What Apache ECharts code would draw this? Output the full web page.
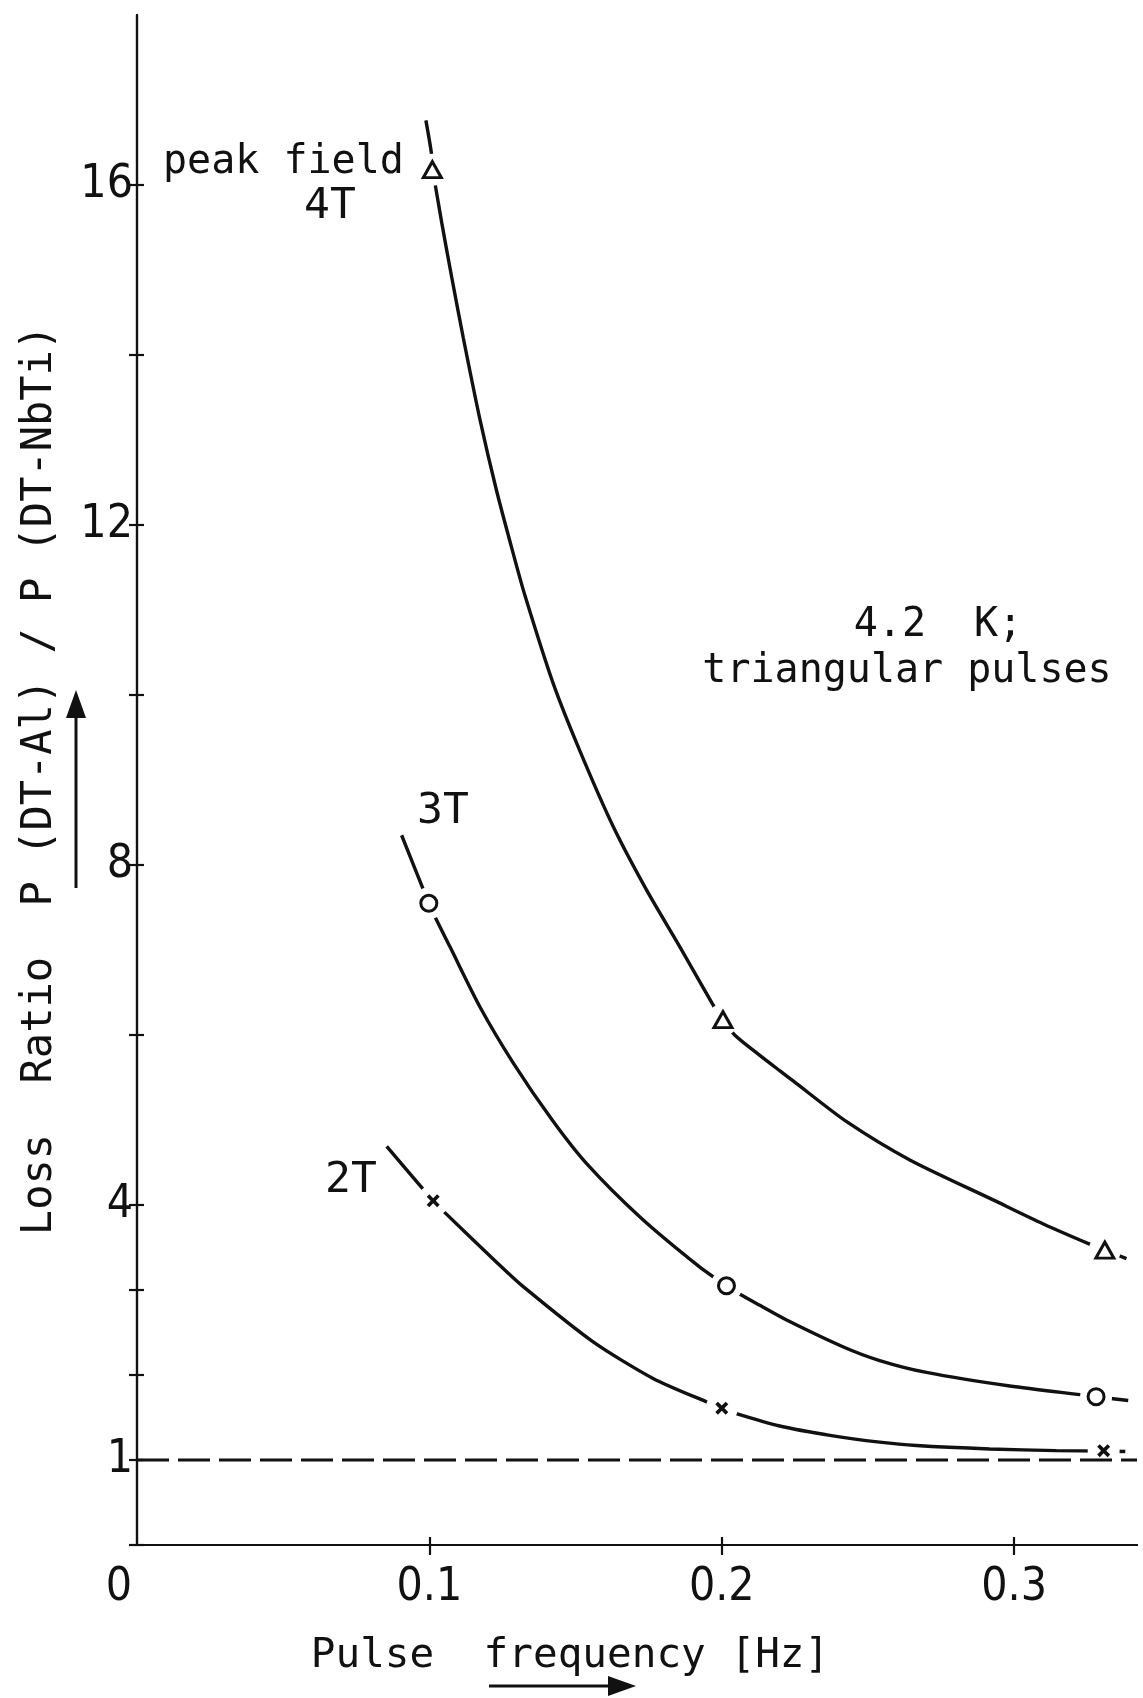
<!DOCTYPE html>
<html>
<head>
<meta charset="utf-8">
<script src="https://cdn.jsdelivr.net/npm/echarts@6/dist/echarts.min.js"></script>
<style>
html,body{margin:0;padding:0;background:#fff;}
#chart{width:1143px;height:1698px;}
</style>
</head>
<body>
<div id="chart"></div>
<script>
// ---- axis ticks / labels ----
const xTickValues = [0.1, 0.2, 0.3];
const xLabelValues = [0, 0.1, 0.2, 0.3];
const yTickValues = [0, 1, 2, 3, 4, 6, 8, 10, 12, 14, 16];
const yLabelValues = [1, 4, 8, 12, 16];
const xMin = 0, xMax = 0.342, yMin = 0, yMax = 18;

// ---- curves ----
const freq4T  = [0.0988, 0.1007, 0.1010, 0.1019, 0.1042, 0.1076, 0.1116, 0.1173, 0.1230, 0.1287, 0.1326, 0.1423, 0.1515, 0.1629, 0.1742, 0.1856, 0.1976, 0.2004, 0.2044, 0.2130, 0.2198, 0.2244, 0.2427, 0.2643, 0.2928, 0.3098, 0.3258, 0.3310, 0.3384];
const ratio4T = [16.76, 16.37, 16.18, 16.02, 15.56, 14.92, 14.20, 13.24, 12.40, 11.66, 11.18, 10.14, 9.34, 8.45, 7.71, 7.04, 6.32, 6.18, 6.00, 5.76, 5.58, 5.46, 4.98, 4.53, 4.06, 3.78, 3.54, 3.47, 3.37];

const freq3T  = [0.0905, 0.0998, 0.1022, 0.1070, 0.1173, 0.1287, 0.1420, 0.1537, 0.1720, 0.1925, 0.2016, 0.2062, 0.2130, 0.2220, 0.2416, 0.2540, 0.2700, 0.2985, 0.3247, 0.3280, 0.3390];
const ratio3T = [8.35, 7.55, 7.37, 7.04, 6.33, 5.67, 5.00, 4.49, 3.86, 3.27, 3.05, 2.95, 2.82, 2.65, 2.33, 2.17, 2.03, 1.87, 1.76, 1.745, 1.70];

const freq2T  = [0.0854, 0.1013, 0.1053, 0.1235, 0.1321, 0.1560, 0.1765, 0.1950, 0.2000, 0.2050, 0.2198, 0.2370, 0.2540, 0.2666, 0.2916, 0.3144, 0.3306, 0.3380];
const ratio2T = [4.69, 4.05, 3.91, 3.31, 3.04, 2.39, 1.96, 1.68, 1.61, 1.545, 1.40, 1.29, 1.21, 1.17, 1.13, 1.11, 1.105, 1.10];

// ---- measured points (markers) ----
const markFreq4T  = [0.1010, 0.2004, 0.3310];
const markRatio4T = [16.18, 6.18, 3.47];
const markFreq3T  = [0.0998, 0.2016, 0.3280];
const markRatio3T = [7.55, 3.05, 1.745];
const markFreq2T  = [0.1013, 0.2000, 0.3306];
const markRatio2T = [4.05, 1.61, 1.11];

// ---- reference line ratio = 1 ----
const refFreq  = [0, 0.342];
const refRatio = [1, 1];

const zip = (a, b) => a.map((v, i) => [v, b[i]]);

const MONO = "'DejaVu Sans Mono', monospace";
const NARROW = "'Liberation Sans Narrow', 'DejaVu Sans Condensed', sans-serif";
const INK = '#111';

const chart = echarts.init(document.getElementById('chart'), null, {renderer: 'canvas'});

const axisLine = {show: true, lineStyle: {color: INK, width: 2.2}};

const xTickLabelFmt = v => (v === 0 ? '{z|0}' : String(v));

const crossPath = 'path://M0,2 L2,0 L5,3 L8,0 L10,2 L7,5 L10,8 L8,10 L5,7 L2,10 L0,8 L3,5 Z';

const curveStyle = {color: INK, width: 3.4};

const option = {
  backgroundColor: '#fff',
  animation: false,
  grid: {left: 137, right: 6, top: 15, bottom: 153, containLabel: false},
  xAxis: [
    {
      type: 'value', position: 'bottom', min: xMin, max: xMax,
      axisLine: axisLine,
      axisTick: {show: true, inside: false, length: 10, customValues: xTickValues, lineStyle: {color: INK, width: 2.2}},
      axisLabel: {
        show: true, customValues: xLabelValues, margin: 20,
        color: INK, fontFamily: NARROW, fontSize: 46,
        formatter: xTickLabelFmt,
        rich: {z: {color: INK, fontFamily: NARROW, fontSize: 46, padding: [0, 36, 0, 0]}}
      },
      splitLine: {show: false},
      name: 'Pulse  frequency [Hz]',
      nameLocation: 'middle', nameGap: 91,
      nameTextStyle: {color: INK, fontFamily: MONO, fontSize: 41, padding: [0, 134, 0, 0]}
    },
    {
      type: 'value', position: 'top', min: xMin, max: xMax,
      axisLine: axisLine,
      axisTick: {show: true, inside: false, length: 8, customValues: xTickValues, lineStyle: {color: INK, width: 2.2}},
      axisLabel: {show: false},
      splitLine: {show: false}
    }
  ],
  yAxis: [
    {
      type: 'value', position: 'left', min: yMin, max: yMax,
      axisLine: axisLine,
      axisTick: {show: true, inside: false, length: 8, customValues: yTickValues, lineStyle: {color: INK, width: 2.2}},
      axisLabel: {show: true, customValues: yLabelValues, margin: 4, color: INK, fontFamily: NARROW, fontSize: 46},
      splitLine: {show: false},
      name: 'Loss  Ratio  P (DT-Al) / P (DT-NbTi)',
      nameLocation: 'middle', nameGap: 76,
      nameTextStyle: {color: INK, fontFamily: MONO, fontSize: 42}
    },
    {
      type: 'value', position: 'right', min: yMin, max: yMax,
      axisLine: axisLine,
      axisTick: {show: true, inside: false, length: 7, customValues: yTickValues, lineStyle: {color: INK, width: 2.2}},
      axisLabel: {show: false},
      splitLine: {show: false}
    }
  ],
  series: [
    {name: '4T', type: 'line', data: zip(freq4T, ratio4T), smooth: 0.25, showSymbol: false, symbol: 'none', lineStyle: curveStyle, z: 2},
    {name: '3T', type: 'line', data: zip(freq3T, ratio3T), smooth: 0.25, showSymbol: false, symbol: 'none', lineStyle: curveStyle, z: 2},
    {name: '2T', type: 'line', data: zip(freq2T, ratio2T), smooth: 0.25, showSymbol: false, symbol: 'none', lineStyle: curveStyle, z: 2},
    {
      name: 'gap', type: 'scatter', symbol: 'circle', symbolSize: 32, silent: true,
      data: zip(markFreq4T, markRatio4T).concat(zip(markFreq3T, markRatio3T), zip(markFreq2T, markRatio2T)),
      itemStyle: {color: '#fff', borderWidth: 0, opacity: 1}, z: 3
    },
    {name: 'ratio = 1', type: 'line', data: zip(refFreq, refRatio), symbol: 'none', lineStyle: {color: INK, width: 3.2, type: [32, 9]}, z: 4},
    {name: '4T pts', type: 'scatter', symbol: 'triangle', symbolSize: [18, 16], data: zip(markFreq4T, markRatio4T),
      itemStyle: {color: '#fff', borderColor: INK, borderWidth: 3, opacity: 1}, z: 5},
    {name: '3T pts', type: 'scatter', symbol: 'circle', symbolSize: 16, data: zip(markFreq3T, markRatio3T),
      itemStyle: {color: '#fff', borderColor: INK, borderWidth: 3, opacity: 1}, z: 5},
    {name: '2T pts', type: 'scatter', symbol: crossPath, symbolSize: 13, data: zip(markFreq2T, markRatio2T),
      itemStyle: {color: INK, opacity: 1}, z: 5}
  ],
  graphic: [
    {type: 'text', x: 163, y: 163, style: {text: 'peak field', font: '40px ' + MONO, fill: INK, align: 'left', verticalAlign: 'middle'}},
    {type: 'text', x: 330, y: 207, style: {text: '4T', font: '43px ' + MONO, fill: INK, align: 'center', verticalAlign: 'middle'}},
    {type: 'text', x: 443, y: 812, style: {text: '3T', font: '43px ' + MONO, fill: INK, align: 'center', verticalAlign: 'middle'}},
    {type: 'text', x: 351, y: 1181, style: {text: '2T', font: '43px ' + MONO, fill: INK, align: 'center', verticalAlign: 'middle'}},
    {type: 'text', x: 938, y: 626, style: {text: '4.2  K;', font: '40px ' + MONO, fill: INK, align: 'center', verticalAlign: 'middle'}},
    {type: 'text', x: 907, y: 672, style: {text: 'triangular pulses', font: '40px ' + MONO, fill: INK, align: 'center', verticalAlign: 'middle'}},
    // arrow beside the y axis title
    {type: 'line', shape: {x1: 76, y1: 888, x2: 76, y2: 712}, style: {stroke: INK, lineWidth: 3}},
    {type: 'polygon', shape: {points: [[76, 690], [66, 718], [86, 718]]}, style: {fill: INK}},
    // arrow under the x axis title
    {type: 'line', shape: {x1: 489, y1: 1686, x2: 612, y2: 1686}, style: {stroke: INK, lineWidth: 3}},
    {type: 'polygon', shape: {points: [[636, 1686], [608, 1676], [608, 1696]]}, style: {fill: INK}}
  ]
};

chart.setOption(option);
</script>
</body>
</html>
